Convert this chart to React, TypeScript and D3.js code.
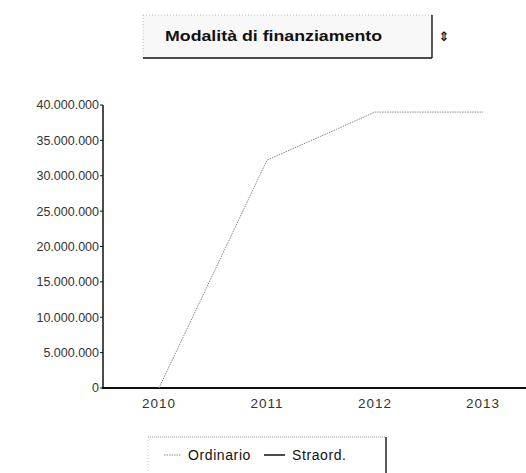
import React from "react";
import * as d3 from "d3";

const years = ["2010", "2011", "2012", "2013"];
const ordinario = [0, 32200000, 39000000, 39000000];
const straord = [0, 0, 0, 0];
const yTicks = [0, 5000000, 10000000, 15000000, 20000000, 25000000, 30000000, 35000000, 40000000];
const titleText = "Modalità di finanziamento";
const seriesNames = ["Ordinario", "Straord."];

const W = 526;
const H = 473;

export default function App() {
  const x = d3.scalePoint<string>().domain(years).range([159, 483]).padding(0);
  const y = d3.scaleLinear().domain([0, 40000000]).range([388, 105]);
  const locale = d3.formatLocale({ decimal: ",", thousands: ".", grouping: [3], currency: ["€", ""] });
  const fmt = locale.format(",d");
  const line = d3
    .line<number>()
    .x((_, i) => x(years[i]) as number)
    .y((d) => y(d));

  const font = "'Liberation Sans', Arial, sans-serif";
  return (
    <svg
      width={W}
      height={H}
      style={{ position: "absolute", left: 0, top: 0, background: "#fff" }}
      fontFamily={font}
    >
      {/* Title box */}
      <rect x={143} y={15} width={289} height={43} fill="#f8f8f8" />
      <line x1={143} y1={15} x2={432} y2={15} stroke="#bbb" strokeDasharray="1,2" />
      <line x1={143} y1={15} x2={143} y2={58} stroke="#bbb" strokeDasharray="1,2" />
      <line x1={143} y1={58} x2={432} y2={58} stroke="#111" strokeWidth={1.5} />
      <line x1={432} y1={15} x2={432} y2={58} stroke="#222" strokeWidth={1.5} />
      <text
        x={165}
        y={41}
        fontSize={14}
        fontWeight="bold"
        fill="#111"
        textLength={217}
        lengthAdjust="spacingAndGlyphs"
      >
        {titleText}
      </text>
      <text x={444} y={41} fontSize={13} fontWeight="bold" fill="#111" textAnchor="middle" fontFamily="'DejaVu Sans'">
        ⇕
      </text>

      {/* Y axis */}
      <line x1={103} y1={105} x2={103} y2={389} stroke="#111" strokeWidth={1.5} />
      {yTicks.map((t) => (
        <g key={t}>
          <line x1={100} x2={103} y1={y(t)} y2={y(t)} stroke="#111" />
          <text x={99} y={y(t)} dy="0.35em" textAnchor="end" fontSize={12.5} fill="#333">
            {fmt(t)}
          </text>
        </g>
      ))}

      {/* X axis */}
      <line x1={102} y1={388} x2={526} y2={388} stroke="#111" strokeWidth={2} />
      {years.map((yr) => (
        <text key={yr} x={x(yr)} y={403} dy="0.35em" textAnchor="middle" fontSize={13.5} fill="#333" letterSpacing={1}>
          {yr}
        </text>
      ))}

      {/* Lines */}
      <path d={line(straord) || ""} fill="none" stroke="#111" strokeWidth={1.5} />
      <path d={line(ordinario) || ""} fill="none" stroke="#8a8a8a" strokeWidth={1} strokeDasharray="1.5,1" />

      {/* Legend */}
      <line x1={148} y1={437} x2={386} y2={437} stroke="#999" strokeDasharray="1,1" />
      <line x1={148} y1={437} x2={148} y2={473} stroke="#ccc" strokeDasharray="1,2" />
      <line x1={386} y1={437} x2={386} y2={473} stroke="#222" strokeWidth={1.5} />
      <line x1={164} y1={455} x2={181} y2={455} stroke="#8a8a8a" strokeDasharray="1.5,1" />
      <text x={188} y={455} dy="0.35em" fontSize={14} fill="#111" letterSpacing={0.6}>
        {seriesNames[0]}
      </text>
      <line x1={264} y1={455} x2={285} y2={455} stroke="#111" strokeWidth={1.5} />
      <text x={292} y={455} dy="0.35em" fontSize={14} fill="#111" letterSpacing={0.6}>
        {seriesNames[1]}
      </text>
    </svg>
  );
}
